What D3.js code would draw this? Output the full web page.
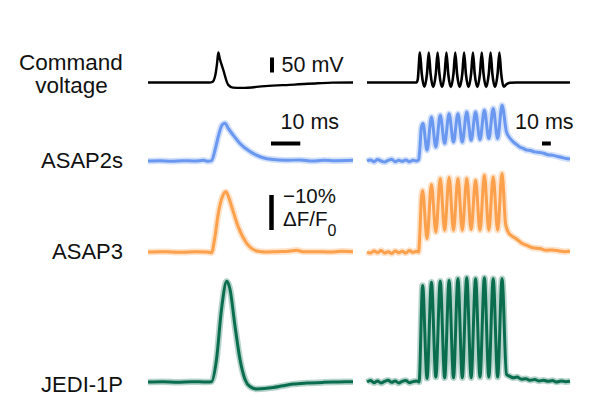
<!DOCTYPE html>
<html>
<head>
<meta charset="utf-8">
<script src="https://cdn.jsdelivr.net/npm/d3@7"></script>
<style>
  body { margin: 0; background: #fff; }
  text { font-family: "Liberation Sans", Arial, sans-serif; fill: #111; }
</style>
</head>
<body>
<script>

// Row labels
var rowLabels = ['ASAP2s', 'ASAP3', 'JEDI-1P']

// Command voltage (t in ms, mV)
var cmdSingle = [[0,-70],[10,-70],[21,-70],[22,-68],[23,-45],[23.6,-5],[24,30],[24.5,10],[25.7,-28],[27.4,-78],[29,-87],[32,-88],
  [40,-82],[50,-77],[58,-72.5],[63,-70.5],[70,-70]]

var cmdTrain = [[0,-70],[30,-70],[56,-70],[57.5,-60],[60,30],[62,-40],[65,-84],[68,-40],[70,30],[72,-40],[75,-85],[78,-40],
  [80,30],[82,-40],[85,-85],[88,-40],[90,30],[92,-40],[95,-85],[98,-40],[100,30],[102,-40],[105,-85],[108,-40],
  [110,30],[112,-40],[115,-85],[118,-40],[120,30],[122,-40],[125,-85],[128,-40],[130,30],[132,-40],[135,-85],[138,-40],
  [140,30],[142,-40],[145,-85],[148,-40],[150,30],[152,-40],[155,-84],[158,-76],[162,-71],[170,-70],[230,-70]]

// -dF/F (%) single AP
var asap2sSingle = [[0,0],[4,0.1],[8,-0.1],[12,0.1],[16,0],[19,0.2],[20.5,-0.1],[21.7,0.1],[23,3.5],[24,7],[25.3,10.3],[26.3,10.8],
  [27.4,9.3],[29.1,7.4],[31.4,5],[34.8,2.7],[39,1],[42.7,0.4],[47,0.2],[52,0.3],[56,0],[60,0.2],[64,0.1],[70,0.2]]

var asap3Single = [[0,0],[4,0.1],[8,0],[12,-0.1],[16,0.1],[20,0],[21.7,-0.2],[22.8,4],[24,11],[25.5,16],[26.6,17.2],[27.6,15.5],
  [28.6,12.9],[30.8,7.2],[33.7,2.5],[37.1,0.3],[40,0],[44,0.1],[48,0.2],[50.7,0.5],[53,0.1],[58,0.1],[62,0],[66,0.2],[70,0.1]]

var jediSingle = [[0,0],[5,0.1],[10,-0.1],[15,0.1],[20,0],[21.7,0.1],[23.4,6.5],[25.1,20.8],[26.9,28.8],[28,26.5],[29.7,16],
  [31.4,6.5],[33.1,0.8],[34.8,-1.3],[37.1,-2],[42.8,-1.6],[46,-1.1],[49.6,-0.6],[54.2,-0.3],[60,-0.1],[65,0],[70,0.1]]

// -dF/F (%) 100 Hz train
var asap2sTrain = [[0,0],[4,0.3],[8,-0.2],[12,0.4],[16,0],[20,-0.3],[24,0.2],[28,0.5],[32,-0.2],[36,0.2],[40,-0.1],[44,0.3],
  [48,-0.2],[52,0.2],[56,0],[58.5,0.3],[60,4],[61.5,9.5],[63.5,10.7],[68,3.1],[73,12.6],[78,4],[83,13.1],[88,5],[93,13.5],
  [98,5.4],[103,13.5],[108,5.4],[113,14],[118,5.9],[123,14],[128,6.1],[133,14.5],[138,6.4],[143,15],[148,6.4],[153,15.9],
  [158,8.3],[162,6.5],[166,5.4],[170,4.6],[173,4],[177,3.6],[181,3.1],[185,3],[190,2.6],[196,2.4],[200,2.2],[205,1.8],
  [211,1.6],[216,1.3],[221,1],[226,0.7],[230,0.6]]

var asap3Train = [[0,0],[4,-0.3],[8,0.3],[12,-0.2],[16,0.4],[20,-0.3],[24,0.1],[28,-0.4],[32,0.3],[36,-0.2],[40,0.2],[44,-0.3],
  [48,0.4],[52,-0.1],[56,0.2],[58.5,0],[60,6],[61.5,15],[63,17.6],[68,3.8],[73,19.3],[78,5.7],[83,21],[88,6.2],[93,21.3],
  [98,6.2],[103,21],[108,6.2],[113,21],[118,6.4],[123,20.5],[128,6.2],[133,21.9],[138,6.2],[143,21.4],[148,6.2],[153,22.4],
  [157,8],[160,5.7],[164,4.6],[169,3.8],[175,2.6],[181,1.9],[188,1.2],[196,1],[203,0.5],[210,0.6],[218,0.3],[224,0.1],[230,0.2]]

var jediTrain = [[0,0],[4,0.4],[8,-0.2],[12,0.3],[16,-0.3],[20,0.2],[24,0.5],[28,-0.1],[32,0.3],[36,-0.3],[40,0.2],[44,0.4],
  [48,-0.2],[52,0.1],[56,0.3],[59,0],[63,27.6],[68,1],[73,28.5],[78,1.4],[83,28.8],[88,1.2],[93,29],[98,1.2],[103,29.5],
  [108,1.2],[113,29.8],[118,1.2],[123,29.5],[128,1.4],[133,29.8],[138,1.4],[143,29.5],[148,1.4],[153,29.5],[158,2.2],
  [162,1.6],[166,1.2],[170,1.4],[175,0.8],[180,0.9],[185,0.5],[190,0.7],[195,0.3],[200,0.5],[205,0.2],[210,0.4],[215,0],
  [220,0.3],[225,0.1],[230,0.2]]

var colors = ['#6a98f0', '#fca04c', '#0a6e4e']

var width = 598, height = 410

var svg = d3.select('body').append('svg')
  .attr('width', width)
  .attr('height', height)

// Set the ranges
var xL = d3.scaleLinear().domain([0, 70]).range([148, 353])
var xR = d3.scaleLinear().domain([0, 230]).range([367, 570])
var yCmd = d3.scaleLinear().domain([-70, 30]).range([82.5, 52.5])

// one y scale per sensor row, 10 % = 35 px
var baselines = [161, 252, 382]
var yRow = baselines.map(function(b) {
  return d3.scaleLinear().domain([0, 10]).range([b, b - 35])
})

function trace(x, y, data, color, w, halo) {
  var line = d3.line()
    .x(function(d) { return x(d[0]) })
    .y(function(d) { return y(d[1]) })
    .curve(d3.curveMonotoneX)
  if (halo) {
    svg.append('path')
      .attr('d', line(data))
      .attr('fill', 'none')
      .attr('stroke', color)
      .attr('stroke-opacity', 0.3)
      .attr('stroke-width', w + 3.5)
      .attr('stroke-linejoin', 'round')
  }
  svg.append('path')
    .attr('d', line(data))
    .attr('fill', 'none')
    .attr('stroke', color)
    .attr('stroke-width', w)
    .attr('stroke-linejoin', 'round')
}

// command traces
trace(xL, yCmd, cmdSingle, '#000', 2.4, false)
trace(xR, yCmd, cmdTrain, '#000', 2.6, false)

// sensor traces
var singles = [asap2sSingle, asap3Single, jediSingle]
var trains = [asap2sTrain, asap3Train, jediTrain]
singles.forEach(function(s, i) { trace(xL, yRow[i], s, colors[i], 3, true) })
trains.forEach(function(s, i) { trace(xR, yRow[i], s, colors[i], 3, true) })

// labels
var fs = '21.5px'
svg.append('text').attr('x', 71).attr('y', 70).attr('text-anchor', 'middle').style('font-size', '22.5px').text('Command')
svg.append('text').attr('x', 71.5).attr('y', 93).attr('text-anchor', 'middle').style('font-size', '22.5px').text('voltage')

var labelY = [168, 259, 391.5]
rowLabels.forEach(function(l, i) {
  svg.append('text').attr('x', 123).attr('y', labelY[i])
    .attr('text-anchor', 'end').style('font-size', '22px').text(l)
})

// scale bars
svg.append('line')
  .attr('x1', 272).attr('x2', 272)
  .attr('y1', yCmd(-70) - 10).attr('y2', yCmd(-70) - 10 - (yCmd(-70) - yCmd(-20)))
  .attr('stroke', '#000').attr('stroke-width', 4)
svg.append('text').attr('x', 281.5).attr('y', 71.5).style('font-size', fs).text('50 mV')

svg.append('line')
  .attr('x1', 271).attr('x2', 271 + xL(10) - xL(0))
  .attr('y1', 143.5).attr('y2', 143.5)
  .attr('stroke', '#000').attr('stroke-width', 4)
svg.append('text').attr('x', 280.5).attr('y', 128.5).style('font-size', fs).text('10 ms')

svg.append('line')
  .attr('x1', 542).attr('x2', 542 + xR(10) - xR(0))
  .attr('y1', 143.5).attr('y2', 143.5)
  .attr('stroke', '#000').attr('stroke-width', 4)
svg.append('text').attr('x', 515).attr('y', 129).style('font-size', fs).text('10 ms')

svg.append('line')
  .attr('x1', 271.5).attr('x2', 271.5)
  .attr('y1', 230).attr('y2', 230 - (yRow[1](0) - yRow[1](10)))
  .attr('stroke', '#000').attr('stroke-width', 4.5)
svg.append('text').attr('x', 283).attr('y', 202.5).style('font-size', '20.5px').text('\u221210%')
var df = svg.append('text').attr('x', 283).attr('y', 225.5).style('font-size', '20.5px')
df.append('tspan').text('\u0394F/F')
df.append('tspan').attr('dy', 10).style('font-size', '16px').text('0')

</script>
</body>
</html>
